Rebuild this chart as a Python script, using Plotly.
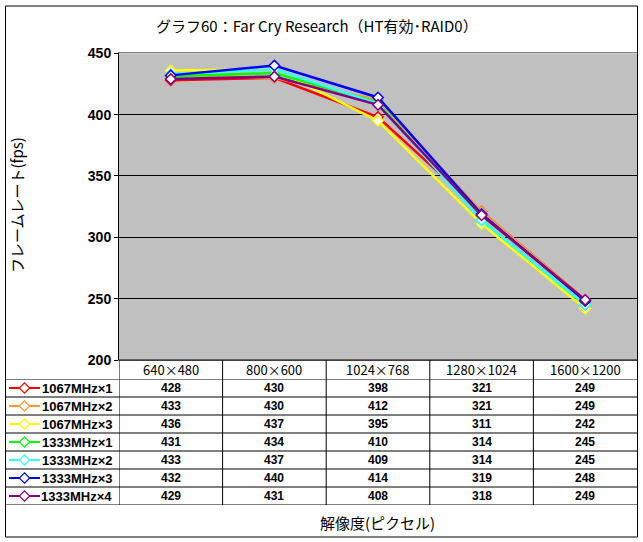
import plotly.graph_objects as go

W, H = 643, 542

# ---- data ----
resolutions = ["640×480", "800×600", "1024×768", "1280×1024", "1600×1200"]
series_names = ["1067MHz×1", "1067MHz×2", "1067MHz×3",
                "1333MHz×1", "1333MHz×2", "1333MHz×3", "1333MHz×4"]
fps_1067_x1 = [428, 430, 398, 321, 249]
fps_1067_x2 = [433, 430, 412, 321, 249]
fps_1067_x3 = [436, 437, 395, 311, 242]
fps_1333_x1 = [431, 434, 410, 314, 245]
fps_1333_x2 = [433, 437, 409, 314, 245]
fps_1333_x3 = [432, 440, 414, 319, 248]
fps_1333_x4 = [429, 431, 408, 318, 249]
series_values = [fps_1067_x1, fps_1067_x2, fps_1067_x3,
                 fps_1333_x1, fps_1333_x2, fps_1333_x3, fps_1333_x4]
series_colors = ["#FF0000", "#FF9933", "#FFFF00", "#00FF00",
                 "#33FFFF", "#0000FF", "#800080"]

JP = "Noto Sans CJK JP"
NUM = "Liberation Sans"


def px_x(x):
    return x / W


def px_y(y):
    return 1 - y / H


# plot area / table geometry (pixels)
PL, PR, PT, PB = 119, 637, 53.3, 360
TL = 5.5
HEADER_H, ROW_H = 19, 18
ROWS_TOP = PB + HEADER_H
TB = ROWS_TOP + ROW_H * len(series_names)
n_rows = len(series_names)
n_cols = len(resolutions)

fig = go.Figure()

for name, vals, col in zip(series_names, series_values, series_colors):
    fig.add_trace(go.Scatter(
        x=resolutions, y=vals, name=name, mode="lines+markers",
        line=dict(color=col, width=2.5),
        marker=dict(symbol="diamond", size=8, color="white",
                    line=dict(color=col, width=1.5)),
        showlegend=False,
    ))

# legend keys inside the data table (own small axes)
for i, col in enumerate(series_colors):
    fig.add_trace(go.Scatter(
        x=[0, 2], y=[i, i], mode="lines", line=dict(color=col, width=2),
        xaxis="x2", yaxis="y2", showlegend=False, hoverinfo="skip",
    ))
    fig.add_trace(go.Scatter(
        x=[1], y=[i], mode="markers",
        marker=dict(symbol="diamond", size=8, color="white",
                    line=dict(color=col, width=1.2)),
        xaxis="x2", yaxis="y2", showlegend=False, hoverinfo="skip",
    ))

line_k = dict(color="black", width=1)
shapes = []
# grey plot-area background (only for the main chart)
shapes.append(dict(type="rect", xref="x domain", yref="y domain",
                   x0=0, x1=1, y0=0, y1=1, fillcolor="#C0C0C0",
                   line=dict(width=0), layer="below"))
# ---- data table: grid lines ----
for r in range(n_rows + 1):
    shapes.append(dict(type="line", xref="paper", yref="y2",
                       x0=px_x(TL), x1=px_x(PR), y0=r - 0.5, y1=r - 0.5, line=line_k))
shapes.append(dict(type="line", xref="paper", yref="paper",
                   x0=px_x(PL), x1=px_x(PR), y0=px_y(PB), y1=px_y(PB), line=line_k))
for c in range(n_cols):
    shapes.append(dict(type="line", xref="x", yref="paper",
                       x0=c - 0.5, x1=c - 0.5, y0=px_y(TB), y1=px_y(PB), line=line_k))
# outer frame
shapes.append(dict(type="rect", xref="paper", yref="paper",
                   x0=px_x(5.5), x1=px_x(637.5), y0=px_y(537), y1=px_y(6),
                   line=line_k, layer="above"))

# ---- data table: texts ----
annotations = []
for c, res in enumerate(resolutions):
    annotations.append(dict(text=res, xref="x", yref="paper", x=res, y=px_y(PB + HEADER_H / 2),
                            xanchor="center", yanchor="middle", showarrow=False,
                            font=dict(family=JP, size=13, color="black")))
for r, (name, vals) in enumerate(zip(series_names, series_values)):
    annotations.append(dict(text="<b>%s</b>" % name, xref="paper", yref="y2",
                            x=px_x(114), y=r, xanchor="right", yanchor="middle", showarrow=False,
                            font=dict(family=NUM, size=13, color="black")))
    for c, res in enumerate(resolutions):
        annotations.append(dict(text="<b>%d</b>" % vals[c], xref="x", yref="y2",
                                x=res, y=r, xanchor="center", yanchor="middle", showarrow=False,
                                font=dict(family=NUM, size=12, color="black")))

annotations += [
    dict(text="グラフ60：Far Cry Research（HT有効･RAID0）", xref="paper", yref="paper",
         x=px_x(317), y=px_y(25), xanchor="center", yanchor="middle", showarrow=False,
         font=dict(family=JP, size=15, color="black")),
    dict(text="フレームレート(fps)", xref="paper", yref="paper",
         x=px_x(16), y=px_y(205), xanchor="center", yanchor="middle", showarrow=False,
         textangle=-90, font=dict(family=JP, size=15, color="black")),
    dict(text="解像度(ピクセル)", xref="paper", yref="paper",
         x=px_x(377), y=px_y(522), xanchor="center", yanchor="middle", showarrow=False,
         font=dict(family=JP, size=15, color="black")),
]

fig.update_layout(
    width=W, height=H,
    margin=dict(l=0, r=0, t=0, b=0, pad=0, autoexpand=False),
    paper_bgcolor="white",
    plot_bgcolor="rgba(0,0,0,0)",
    xaxis=dict(
        domain=[px_x(PL), px_x(PR)], type="category", range=[-0.5, 4.5],
        showticklabels=False, showgrid=False, ticks="", automargin=False,
        showline=True, linecolor="#808080", mirror=True, zeroline=False,
    ),
    yaxis=dict(
        domain=[px_y(PB), px_y(PT)], range=[200, 450], dtick=50, automargin=False,
        showgrid=True, gridcolor="black", gridwidth=1,
        ticks="outside", ticklen=4, tickcolor="black",
        showline=True, linecolor="black", zeroline=False,
        tickfont=dict(family=NUM, size=14, color="black", weight="bold"),
    ),
    xaxis2=dict(domain=[px_x(9), px_x(40)], range=[0, 2], visible=False, anchor="y2"),
    yaxis2=dict(domain=[px_y(TB), px_y(ROWS_TOP)],
                range=[n_rows - 0.5, -0.5], visible=False, anchor="x2"),
    shapes=shapes,
    annotations=annotations,
)

fig.write_html("out.html", config={"displayModeBar": False},
               post_script="document.body.style.margin='0px';")
